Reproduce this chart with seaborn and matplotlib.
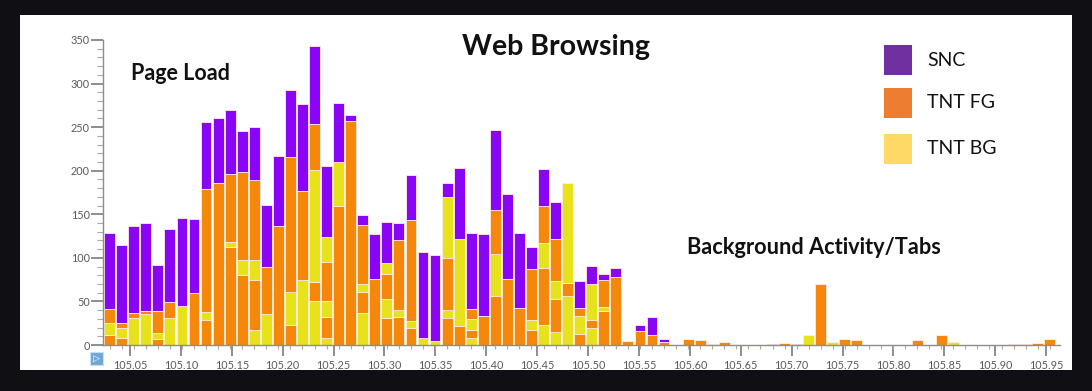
import numpy as np
import pandas as pd
import seaborn as sns
import matplotlib.pyplot as plt
from matplotlib.patches import Rectangle

# ---------------- data ----------------
t_start = 105.030      # centre of the first time bin
t_step = 0.01184       # bin width
# stacked layers, bottom -> top (TNT BG / TNT FG interleave inside each bar)
bg1 = [0, 0, 31, 36, 0, 31, 45, 0, 0, 0, 0, 0, 17, 36, 0, 0, 75, 50, 8, 0,
       0, 37, 0, 0, 0, 0, 8, 5, 0, 0, 8, 0, 0, 0, 0, 0, 23, 15, 56, 0,
       19, 0, 0, 0, 0, 0, 0, 0, 0, 0, 0, 0, 0, 0, 0, 0, 0, 0, 12, 0,
       3, 0, 0, 0, 0, 0, 0, 0, 0, 0, 3, 0, 0, 0, 0, 0, 0, 0, 0]
fg1 = [12, 8, 6, 3, 7, 18, 0, 60, 29, 186, 112, 80, 58, 53, 136, 23, 102, 22, 24, 160,
       257, 24, 76, 31, 32, 20, 0, 0, 31, 22, 9, 33, 56, 76, 43, 17, 65, 38, 15, 13,
       10, 39, 78, 5, 16, 12, 3, 0, 7, 6, 1, 4, 0, 0, 0, 0, 2, 0, 0, 70,
       0, 7, 6, 0, 0, 0, 0, 6, 0, 12, 0, 0, 0, 0, 0, 1, 1, 2, 7]
bg2 = [13, 12, 0, 0, 7, 0, 0, 0, 9, 0, 6, 17, 22, 0, 0, 38, 0, 129, 18, 0,
       0, 9, 0, 22, 8, 8, 0, 0, 9, 100, 13, 0, 49, 0, 0, 12, 29, 20, 115, 20,
       41, 5, 0, 0, 0, 0, 0, 0, 0, 0, 0, 0, 0, 0, 0, 0, 0, 0, 0, 0,
       0, 0, 0, 0, 0, 0, 0, 0, 0, 0, 0, 0, 0, 0, 0, 0, 0, 0, 0]
fg2 = [16, 5, 0, 0, 25, 0, 0, 0, 141, 0, 78, 101, 92, 0, 0, 155, 0, 53, 45, 0,
       0, 68, 0, 29, 80, 115, 0, 0, 60, 0, 11, 0, 50, 0, 0, 58, 42, 49, 0, 9,
       0, 31, 0, 0, 0, 0, 0, 0, 0, 0, 0, 0, 0, 0, 0, 0, 0, 0, 0, 0,
       0, 0, 0, 0, 0, 0, 0, 0, 0, 0, 0, 0, 0, 0, 0, 0, 0, 0, 0]
bg3 = [0, 0, 0, 0, 0, 0, 0, 0, 0, 0, 0, 0, 0, 0, 0, 0, 0, 0, 29, 50,
       0, 0, 0, 12, 0, 0, 0, 0, 70, 0, 0, 0, 0, 0, 0, 0, 0, 0, 0, 0,
       0, 0, 0, 0, 0, 0, 0, 0, 0, 0, 0, 0, 0, 0, 0, 0, 0, 0, 0, 0,
       0, 0, 0, 0, 0, 0, 0, 0, 0, 0, 0, 0, 0, 0, 0, 0, 0, 0, 0]
snc = [87, 90, 100, 101, 53, 84, 101, 85, 77, 75, 74, 48, 61, 72, 81, 77, 99, 89, 81, 68,
       7, 11, 51, 47, 20, 52, 99, 98, 16, 81, 88, 94, 92, 97, 86, 26, 43, 42, 0, 32,
       21, 6, 10, 0, 7, 20, 4, 0, 0, 0, 0, 0, 0, 0, 0, 1, 0, 1, 0, 0,
       0, 0, 0, 0, 0, 0, 0, 0, 0, 0, 0, 0, 0, 0, 0, 0, 0, 0, 0]

legend_labels = ["SNC", "TNT FG", "TNT BG"]
x_tick_values = [105.05 + 0.05 * k for k in range(19)]
y_tick_values = [0, 50, 100, 150, 200, 250, 300, 350]

# ---------------- build long table ----------------
n = len(snc)
centers = t_start + t_step * np.arange(n)
edges = [float(v) for v in (t_start - t_step / 2 + t_step * np.arange(n + 1))]
layers = {"bg1": bg1, "fg1": fg1, "bg2": bg2, "fg2": fg2, "bg3": bg3, "snc": snc}
rows = []
for name, vals in layers.items():
    for c, v in zip(centers, vals):
        rows.append({"t": float(c), "w": v, "layer": name})
df = pd.DataFrame(rows)

C_PUR, C_ORA, C_YEL = "#8a05f5", "#f5870a", "#e8e21c"
pal = {"snc": C_PUR, "fg2": C_ORA, "fg1": C_ORA, "bg1": C_YEL, "bg2": C_YEL, "bg3": C_YEL}
# seaborn stacks the last hue level at the bottom
hue_order = ["snc", "bg3", "fg2", "bg2", "fg1", "bg1"]

# ---------------- figure ----------------
sns.set_theme(style="white")
plt.rcParams["font.family"] = ["Lato", "DejaVu Sans"]

W, H = 1092, 391
fig = plt.figure(figsize=(W / 100, H / 100), dpi=100, facecolor="#0f0f14")
panel = Rectangle((20 / W, 1 - 370 / H), (1072 - 20) / W, (370 - 15) / H,
                  transform=fig.transFigure, facecolor="white",
                  edgecolor="none", zorder=-10)
fig.patches.append(panel)

ax = fig.add_axes([103 / W, 1 - 345 / H, (1060 - 103) / W, (345 - 40) / H])
ax.set_zorder(1)
ax.set_facecolor("white")

sns.histplot(data=df, x="t", weights="w", hue="layer", hue_order=hue_order,
             palette=pal, bins=edges, multiple="stack", shrink=0.9, alpha=1,
             edgecolor="#fbeee0", linewidth=0.6, legend=False, ax=ax)

ax.set_xlim(105.0235, 105.9636)
ax.set_ylim(0, 350)
ax.set_xlabel("")
ax.set_ylabel("")
for s in ["top", "right"]:
    ax.spines[s].set_visible(False)
for s in ["left", "bottom"]:
    ax.spines[s].set_color("#8c8c8c")
    ax.spines[s].set_linewidth(1.0)

ax.set_xticks(x_tick_values)
ax.set_xticklabels([f"{v:.2f}" for v in x_tick_values])
ax.set_xticks(centers, minor=True)
ax.set_yticks(y_tick_values)
ax.set_yticks(np.arange(0, 351, 10), minor=True)
ax.tick_params(axis="both", which="major", direction="out", width=1.1,
               color="#6f6f6f", labelsize=7.8, labelcolor="#5a5a5a")
ax.tick_params(axis="y", which="major", length=8.5, pad=1)
ax.tick_params(axis="x", which="major", length=8, pad=3)
ax.tick_params(axis="y", which="minor", direction="out", length=4,
               width=0.8, color="#a8a8a8")
ax.tick_params(axis="x", which="minor", direction="out", length=3,
               width=0.8, color="#c0a890")
ax.tick_params(axis="x", which="both", bottom=True)
ax.tick_params(axis="y", which="both", left=True)
ax.grid(False)

# ---------------- annotations ----------------
def fx(px):
    return px / W

def fy(py):
    return 1 - py / H

fig.text(fx(556), fy(47), "Web Browsing", ha="center", va="center",
         fontsize=20.5, fontweight="bold", color="#111111", zorder=5)
fig.text(fx(131), fy(73), "Page Load", ha="left", va="center",
         fontsize=15.5, fontweight="bold", color="#111111", zorder=5)
fig.text(fx(687), fy(248), "Background Activity/Tabs", ha="left", va="center",
         fontsize=15.7, fontweight="bold", color="#111111", zorder=5)

leg_colors = ["#7030a0", "#ed7d31", "#ffd966"]
leg_y = [60, 103, 149]
for lab, col, yc in zip(legend_labels, leg_colors, leg_y):
    fig.patches.append(Rectangle((fx(884), fy(yc + 15)), 28 / W, 30 / H,
                                 transform=fig.transFigure, facecolor=col,
                                 edgecolor="none", zorder=5))
    fig.text(fx(927), fy(yc), lab, ha="left", va="center", fontsize=14,
             color="#111111", zorder=5)

# small icon at the axis corner
fig.patches.append(Rectangle((fx(90), fy(365)), 13 / W, 13 / H,
                             transform=fig.transFigure, facecolor="#6fa8d6",
                             edgecolor="#c9def0", linewidth=0.8, zorder=5))
fig.text(fx(96.5), fy(358.5), "\u25b7", ha="center", va="center", fontsize=6.5,
         color="#ffffff", family=["DejaVu Sans"], zorder=6)

fig.savefig("out.png", dpi=100, facecolor=fig.get_facecolor())
